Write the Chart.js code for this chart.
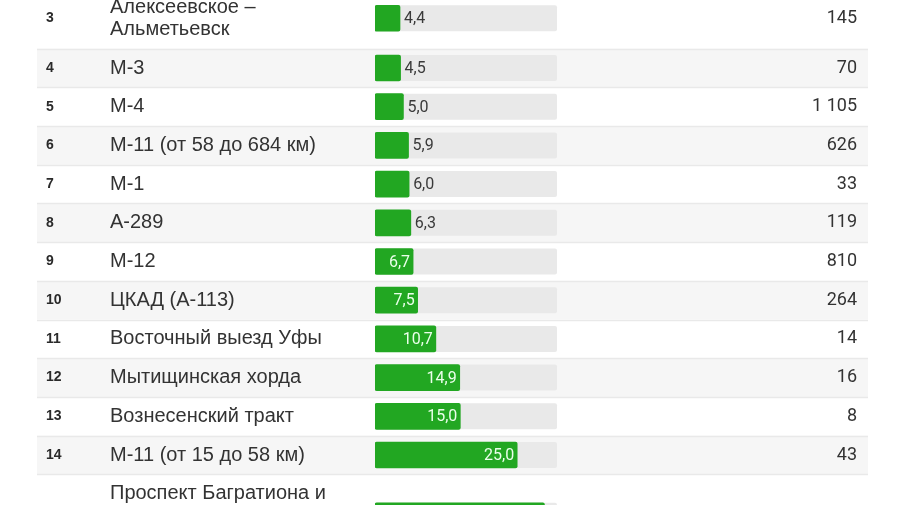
<!DOCTYPE html>
<html>
<head>
<meta charset="utf-8">
<script src="https://cdn.jsdelivr.net/npm/chart.js@4/dist/chart.umd.min.js"></script>
<style>
html,body{margin:0;padding:0;background:#fff;overflow:hidden;}
canvas{display:block;}
</style>
</head>
<body>
<canvas id="c" width="900" height="505"></canvas>
<script>
// ---- data ----
const ranks = [3, 4, 5, 6, 7, 8, 9, 10, 11, 12, 13, 14, 15];
const roadNames = [
  ["Алексеевское –", "Альметьевск"],
  ["М-3"],
  ["М-4"],
  ["М-11 (от 58 до 684 км)"],
  ["М-1"],
  ["А-289"],
  ["М-12"],
  ["ЦКАД (А-113)"],
  ["Восточный выезд Уфы"],
  ["Мытищинская хорда"],
  ["Вознесенский тракт"],
  ["М-11 (от 15 до 58 км)"],
  ["Проспект Багратиона и"]
];
const speedValues = [4.4, 4.5, 5.0, 5.9, 6.0, 6.3, 6.7, 7.5, 10.7, 14.9, 15.0, 25.0, 29.8];
const countValues = [145, 70, 1105, 626, 33, 119, 810, 264, 14, 16, 8, 43, null];
// number of text lines in each row (row 15 continues below the visible area)
const rowLines = [2, 1, 1, 1, 1, 1, 1, 1, 1, 1, 1, 1, 3];

// ---- layout helpers (row positions in row units) ----
const LINE_EXTRA = 0.57;
const rowTop = [], rowCenter = [], rowBottom = [];
let acc = 0;
rowLines.forEach((n) => {
  const h = 1 + (n - 1) * LINE_EXTRA;
  rowTop.push(acc);
  rowCenter.push(acc + h / 2);
  acc += h;
  rowBottom.push(acc);
});
const ROW_PX = 38.7;
const Y_MIN = rowCenter[1] - 68 / ROW_PX;
const Y_MAX = Y_MIN + 505 / ROW_PX;
const X_MAX = 32;

const GREEN = '#22a722';
const FONT = 'Roboto, "Noto Sans", Arial, sans-serif';
const NAME_FONT = '"Liberation Sans", Arial, sans-serif';

function fmt(n) {
  if (n === null) return '';
  return String(n).replace(/\B(?=(\d{3})+(?!\d))/g, ' ');
}

const tablePlugin = {
  id: 'tablePlugin',
  beforeDatasetsDraw(chart) {
    const ctx = chart.ctx;
    const y = chart.scales.y, x = chart.scales.x;
    ctx.save();
    // stripes
    ranks.forEach((r, i) => {
      const t = y.getPixelForValue(rowTop[i]);
      const b = y.getPixelForValue(rowBottom[i]);
      if (i % 2 === 1) {
        ctx.fillStyle = '#f6f6f6';
        ctx.fillRect(37, t, 831, b - t);
      }
    });
    // separators
    ctx.strokeStyle = '#e9e9e9';
    ctx.lineWidth = 1.5;
    ranks.forEach((r, i) => {
      const b = Math.round(y.getPixelForValue(rowBottom[i])) + 0.5;
      ctx.beginPath();
      ctx.moveTo(37, b);
      ctx.lineTo(868, b);
      ctx.stroke();
    });
    // tracks
    ctx.fillStyle = '#e9e9e9';
    ranks.forEach((r, i) => {
      const c = y.getPixelForValue(rowCenter[i]);
      const l = x.getPixelForValue(0);
      const rr = x.getPixelForValue(X_MAX);
      ctx.beginPath();
      ctx.roundRect(l, c - 13, rr - l, 26, 2);
      ctx.fill();
    });
    ctx.restore();
  },
  afterDatasetsDraw(chart) {
    const ctx = chart.ctx;
    const y = chart.scales.y, x = chart.scales.x;
    ctx.save();
    ctx.textBaseline = 'middle';
    ranks.forEach((r, i) => {
      const c = y.getPixelForValue(rowCenter[i]);
      // rank number
      ctx.font = 'bold 14px ' + NAME_FONT;
      ctx.fillStyle = '#2a2a2a';
      ctx.textAlign = 'left';
      ctx.fillText(String(r), 46, c);
      // name
      ctx.font = '20px ' + NAME_FONT;
      ctx.fillStyle = '#333';
      ctx.textAlign = 'left';
      const firstY = c - (rowLines[i] - 1) * 11;
      roadNames[i].forEach((line, k) => {
        ctx.fillText(line, 110, firstY + k * 22);
      });
      // count
      ctx.font = '18px ' + FONT;
      ctx.textAlign = 'right';
      ctx.fillText(fmt(countValues[i]), 857, c);
      // value label
      const v = speedValues[i];
      const label = v.toFixed(1).replace('.', ',');
      ctx.font = '16px ' + FONT;
      const x0 = x.getPixelForValue(0);
      const x1 = x.getPixelForValue(v);
      if (x1 - x0 >= 37) {
        ctx.fillStyle = '#eaffea';
        ctx.textAlign = 'right';
        ctx.fillText(label, x1 - 3, c + 1);
      } else {
        ctx.fillStyle = '#3a3a3a';
        ctx.textAlign = 'left';
        ctx.fillText(label, x1 + 4, c + 1);
      }
    });
    ctx.restore();
  }
};

new Chart(document.getElementById('c'), {
  type: 'bar',
  data: {
    datasets: [{
      data: speedValues.map((v, i) => ({ x: v, y: rowCenter[i] })),
      backgroundColor: GREEN,
      borderWidth: 0,
      borderRadius: 2,
      borderSkipped: false,
      barThickness: 26
    }]
  },
  options: {
    indexAxis: 'y',
    responsive: false,
    animation: false,
    devicePixelRatio: 1,
    layout: { padding: { left: 375, right: 343, top: 0, bottom: 0 } },
    scales: {
      x: { type: 'linear', min: 0, max: X_MAX, display: false, offset: false },
      y: { type: 'linear', min: Y_MIN, max: Y_MAX, reverse: true, display: false, offset: false }
    },
    plugins: { legend: { display: false }, tooltip: { enabled: false } }
  },
  plugins: [tablePlugin]
});
</script>
</body>
</html>
